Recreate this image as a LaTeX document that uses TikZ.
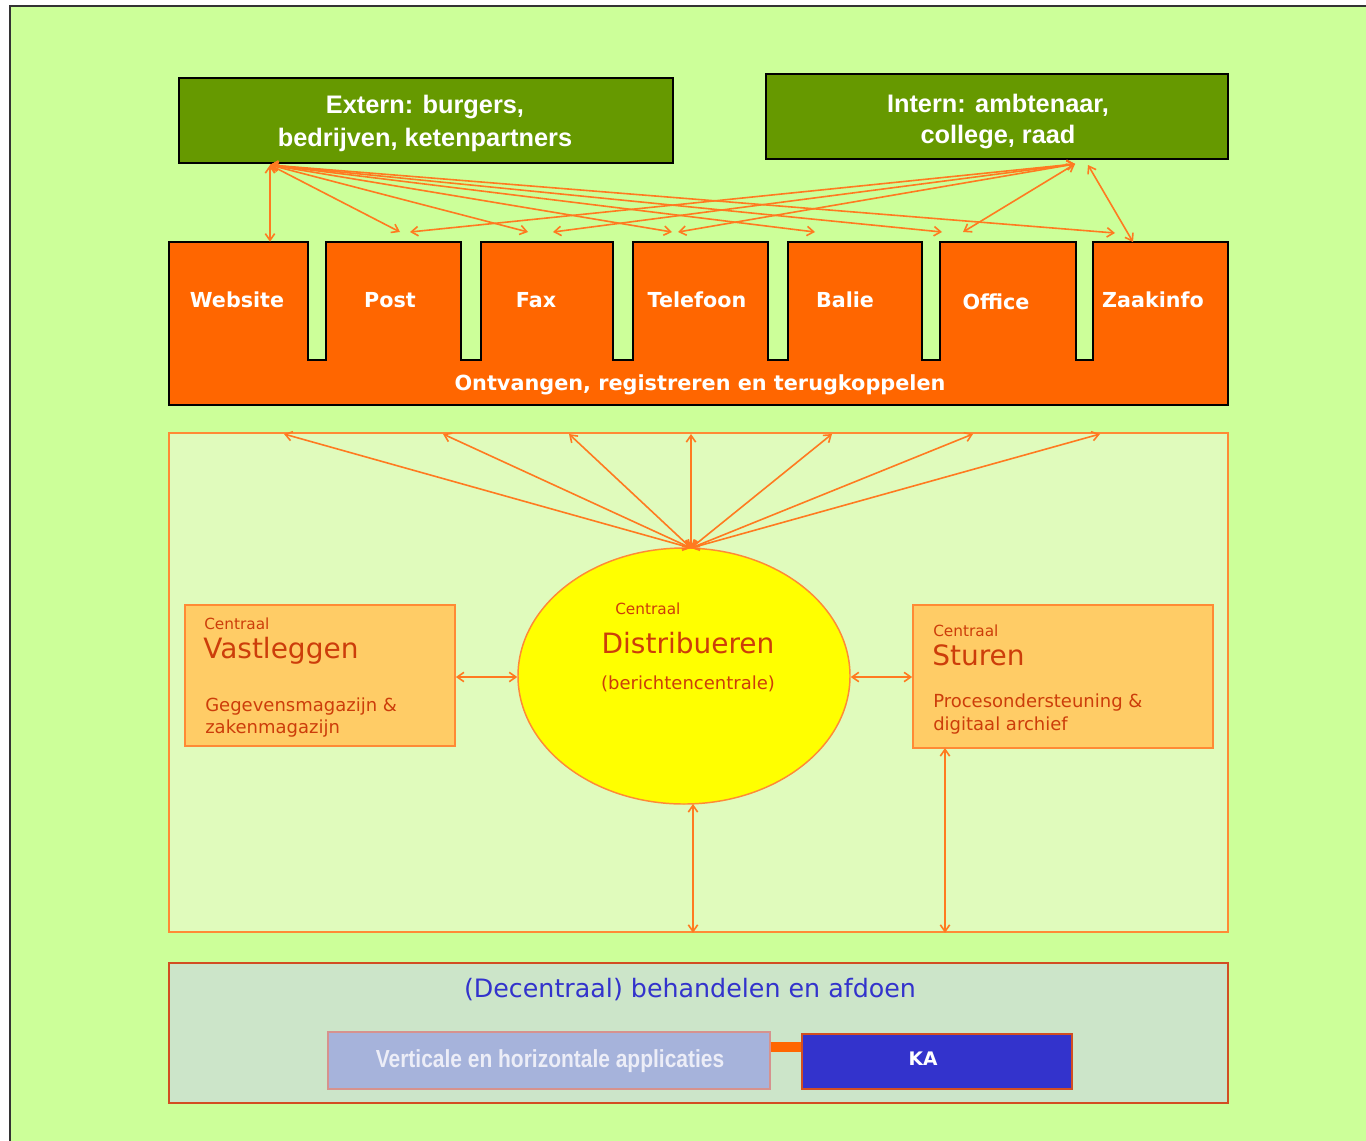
\documentclass[tikz,border=0pt]{standalone}
\usepackage{fontspec}
\setmainfont{DejaVu Sans}
\newfontfamily\arialf{Liberation Sans}
\newfontfamily\condf[FakeStretch=0.85]{Liberation Sans}
\usetikzlibrary{arrows.meta,fit,shapes.geometric}
\definecolor{bgout}{HTML}{CCFF99}
\definecolor{frame}{HTML}{333333}
\definecolor{gbox}{HTML}{669900}
\definecolor{orng}{HTML}{FF6600}
\definecolor{arrc}{HTML}{FF7A20}
\definecolor{panelfill}{HTML}{E0FBBC}
\definecolor{panelline}{HTML}{FF8A35}
\definecolor{boxfill}{HTML}{FFCC66}
\definecolor{txtred}{HTML}{CC3D0A}
\definecolor{lowfill}{HTML}{CCE5C9}
\definecolor{lowline}{HTML}{D24E22}
\definecolor{blue1}{HTML}{3333CC}
\definecolor{vhfill}{HTML}{A6B3DB}
\definecolor{vhline}{HTML}{D6928E}
\definecolor{vhtext}{HTML}{ECEDF7}
\definecolor{ylw}{HTML}{FFFF00}
\tikzset{
  arr/.style={draw=arrc, line width=1.2pt,
    {Straight Barb[length=5pt,width=7pt]}-{Straight Barb[length=5pt,width=7pt]}},
  greenbox/.style={fill=gbox, draw=black, line width=1pt, inner sep=0pt},
  gtext/.style={anchor=base, inner sep=0pt, text=white, font=\arialf\bfseries\fontsize{19}{22}\selectfont},
  tabbox/.style={inner sep=0pt},
  tabtxt/.style={anchor=base, inner sep=0pt, text=white, font=\bfseries\fontsize{15.5}{18}\selectfont},
  panel/.style={fill=panelfill, draw=panelline, line width=1.3pt, inner sep=0pt},
  cbox/.style={fill=boxfill, draw=panelline, line width=1.3pt, inner sep=0pt},
  small/.style={anchor=base west, inner sep=0pt, text=txtred, font=\fontsize{11.5}{13}\selectfont},
  big/.style={anchor=base west, inner sep=0pt, text=txtred, font=\fontsize{21}{24}\selectfont},
  body/.style={anchor=base west, inner sep=0pt, text=txtred, font=\fontsize{13.5}{16}\selectfont},
  kabar/.style={draw=orng, line width=8pt}
}
\begin{document}
\begin{tikzpicture}[x=0.75pt,y=-0.75pt]
\useasboundingbox (0,0) rectangle (1366,1140);
\fill[white] (0,0) rectangle (1366,1140);
\draw[fill=bgout, draw=frame, line width=1.2pt] (10,6) rectangle (1400,1180);

% top green boxes
\node[greenbox, fit={(179,78) (673,163)}] (ext) {};
\node[gtext] (extL1) at (425,113) {Extern: burgers,};
\node[gtext] (extL2) at (425,146) {bedrijven, ketenpartners};
\node[greenbox, fit={(766,74) (1228,159)}] (int) {};
\node[gtext] (intL1) at (998,112) {Intern: ambtenaar,};
\node[gtext] (intL2) at (998,143) {college, raad};

% orange channel shape
\draw[fill=orng, draw=black, line width=1pt]
  (169,405) -- (169,242) -- (308,242) -- (308,360) -- (326,360) -- (326,242)
  -- (461,242) -- (461,360) -- (481,360) -- (481,242) -- (613,242) -- (613,360)
  -- (633,360) -- (633,242) -- (768,242) -- (768,360) -- (788,360) -- (788,242)
  -- (922,242) -- (922,360) -- (940,360) -- (940,242) -- (1076,242) -- (1076,360)
  -- (1093,360) -- (1093,242) -- (1228,242) -- (1228,405) -- cycle;
\node[tabbox, fit={(169,242) (308,360)}] (web) {};
\node[tabbox, fit={(326,242) (461,360)}] (post) {};
\node[tabbox, fit={(481,242) (613,360)}] (fax) {};
\node[tabbox, fit={(633,242) (768,360)}] (tel) {};
\node[tabbox, fit={(788,242) (922,360)}] (bal) {};
\node[tabbox, fit={(940,242) (1076,360)}] (off) {};
\node[tabbox, fit={(1093,242) (1228,360)}] (zaak) {};
\node[tabtxt] (webT) at (237,307) {Website};
\node[tabtxt] (postT) at (390,307) {Post};
\node[tabtxt] (faxT) at (536,307) {Fax};
\node[tabtxt] (telT) at (697,307) {Telefoon};
\node[tabtxt] (balT) at (845,307) {Balie};
\node[tabtxt] (offT) at (996,309) {Office};
\node[tabtxt] (zaakT) at (1153,307) {Zaakinfo};
\node[tabtxt, font=\bfseries\fontsize{15.6}{17}\selectfont] (ont) at (700,390) {Ontvangen, registreren en terugkoppelen};

% arrows top
\coordinate (eA) at (270,165);
\coordinate (iA) at (1075,164);
\coordinate (iB) at (1088,165);
\coordinate (ePost) at (400,232);
\coordinate (eFax) at (528,232);
\coordinate (eTel) at (672,232);
\coordinate (eBal) at (815,232);
\coordinate (eOff) at (942,232);
\coordinate (eZaak) at (1115,233);
\coordinate (iPost) at (410,232);
\coordinate (iFax) at (553,232);
\coordinate (iTel) at (678,232);
\coordinate (iOff) at (963,232);
\coordinate (zTop) at (1133,242);
\draw[arr] (eA) -- (eA |- web.north);
\draw[arr] (eA) -- (ePost);
\draw[arr] (eA) -- (eFax);
\draw[arr] (eA) -- (eTel);
\draw[arr] (eA) -- (eBal);
\draw[arr] (eA) -- (eOff);
\draw[arr] (eA) -- (eZaak);
\draw[arr] (iA) -- (iPost);
\draw[arr] (iA) -- (iFax);
\draw[arr] (iA) -- (iTel);
\draw[arr] (iA) -- (iOff);
\draw[arr] (iB) -- (zTop);

% middle panel
\node[panel, fit={(169,433) (1228,932)}] (mid) {};
\node[ellipse, fill=ylw, draw=panelline, line width=1.1pt, inner sep=0pt,
      minimum width=249pt, minimum height=192pt] (dist) at (684,676) {};
\node[cbox, fit={(185,605) (455,746)}] (vast) {};
\node[cbox, fit={(913,605) (1213,748)}] (stur) {};

\node[small] (vC) at (204,629) {Centraal};
\node[big] (vT) at (203,658) {Vastleggen};
\node[body] (vD1) at (205,711) {Gegevensmagazijn \&};
\node[body] (vD2) at (205,733) {zakenmagazijn};

\node[small] (sC) at (933,636) {Centraal};
\node[big] (sT) at (932,665) {Sturen};
\node[body] (sD1) at (933,707) {Procesondersteuning \&};
\node[body] (sD2) at (933,730) {digitaal archief};

\node[small] (dC) at (615,614) {Centraal};
\node[big, anchor=base] (dT) at (688,653) {Distribueren};
\node[body, anchor=base] (dD) at (688,689) {(berichtencentrale)};

% fan arrows
\coordinate (dTop) at (691,548);
\foreach \xx/\nm in {284/a1,443/a2,569/a3,691/a4,832/a5,973/a6,1100/a7}{
  \coordinate (\nm) at (\xx,434);
  \draw[arr] (dTop) -- (\nm);
}
\draw[arr] (vast.east |- 0,677) -- (dist.west |- 0,677);
\draw[arr] (dist.east |- 0,677) -- (stur.west |- 0,677);
\coordinate (dBot) at (693,804);
\draw[arr] (dBot) -- (dBot |- mid.south);
\coordinate (sBot) at (945,748);
\draw[arr] (sBot) -- (sBot |- mid.south);

% bottom panel
\node[fill=lowfill, draw=lowline, line width=1.5pt, inner sep=0pt, fit={(169,963) (1228,1103)}] (low) {};
\node[anchor=base, inner sep=0pt, text=blue1, font=\fontsize{19}{22}\selectfont] (lowT) at (690,997) {(Decentraal) behandelen en afdoen};
\node[fill=vhfill, draw=vhline, line width=0.8pt, inner sep=0pt, fit={(328,1032) (770,1089)}] (vh) {};
\node[anchor=base, inner sep=0pt, text=vhtext, font=\condf\bfseries\fontsize{18.5}{20}\selectfont] (vhT) at (550,1067) {Verticale en horizontale applicaties};
\node[fill=blue1, draw=lowline, line width=1pt, inner sep=0pt, fit={(802,1034) (1072,1089)}] (ka) {};
\node[anchor=base, inner sep=0pt, text=white, font=\bfseries\fontsize{14}{16}\selectfont] (kaT) at (923,1065) {KA};
\coordinate (cb) at (786,1047);
\draw[kabar] (vh.east |- cb) -- (ka.west |- cb);
\end{tikzpicture}
\end{document}
